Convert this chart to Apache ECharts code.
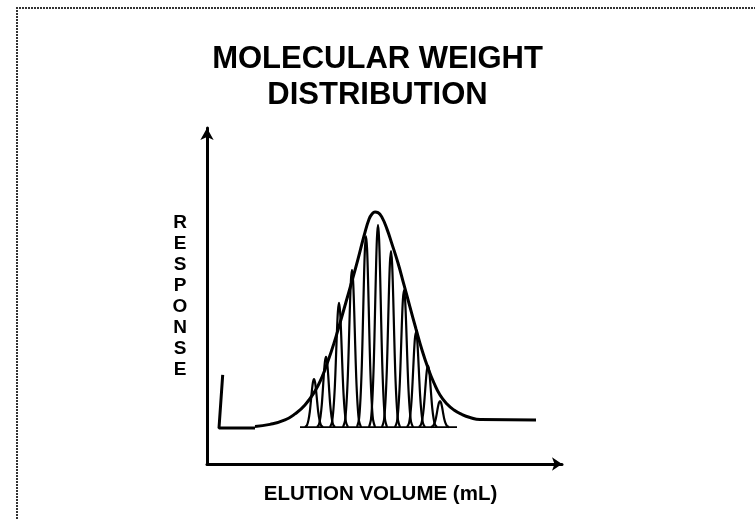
<!DOCTYPE html>
<html>
<head>
<meta charset="utf-8">
<script src="https://cdn.jsdelivr.net/npm/echarts@6/dist/echarts.min.js"></script>
<style>
  html, body { margin: 0; padding: 0; background: #fff; }
  #chart { width: 755px; height: 519px; }
</style>
</head>
<body>
<div id="chart"></div>
<script>
// Detector trace: injection spike and flat start of the run
const spikePoints = [[1.57, 29.7], [1.2, 12.0], [4.8, 12.0]];

// Broad envelope of the polymer distribution (elution volume, response)
const envelopePoints = [
  [4.8, 12.5], [6.3, 13.2], [7.8, 14.7], [8.8, 16.7], [9.8, 19.7],
  [10.8, 24.3], [11.5, 29.0], [12.1, 34.3], [12.7, 40.3], [13.3, 47.0],
  [13.9, 54.0], [14.5, 61.0], [15.1, 68.3], [15.7, 76.0], [16.2, 81.6],
  [16.5, 83.3], [16.8, 84.0], [17.1, 83.8], [17.5, 82.2], [18.0, 78.3],
  [18.5, 73.3], [19.1, 67.0], [19.7, 59.7], [20.3, 52.3], [20.9, 45.0],
  [21.5, 38.0], [22.1, 32.0], [22.7, 27.0], [23.3, 23.0], [24.0, 20.0],
  [24.7, 18.0], [25.5, 16.5], [26.3, 15.5], [27.3, 14.8], [32.9, 14.7]
];

// Individual oligomer peaks: retention and apex response
const peakCenters = [10.7, 11.9, 13.2, 14.5, 15.9, 17.1, 18.4, 19.7, 20.9, 22.1, 23.3];
const peakTops    = [28.3, 35.7, 53.7, 64.7, 76.0, 79.7, 71.0, 58.0, 44.0, 32.7, 21.0];
const peakBase = 12.3;
const peakBaseline = [[9.3, 12.3], [25.0, 12.3]];

// Shape of a single narrow peak: offset from apex (mL), fraction of apex height
const peakProfile = [
  [-0.9, 0], [-0.7, 0.04], [-0.55, 0.15], [-0.42, 0.32], [-0.32, 0.52],
  [-0.22, 0.74], [-0.11, 0.93], [0, 1], [0.11, 0.93], [0.22, 0.74],
  [0.32, 0.52], [0.42, 0.32], [0.55, 0.15], [0.7, 0.04], [0.9, 0]
];

const FONT = '"Liberation Sans", Arial, sans-serif';
const INK = '#000';

const peakSeries = peakCenters.map((c, i) => ({
  type: 'line',
  name: 'peak ' + (i + 1),
  data: peakProfile.map(([dx, f]) => [c + dx, peakBase + f * (peakTops[i] - peakBase)]),
  showSymbol: false,
  smooth: 0.3,
  lineStyle: { color: INK, width: 2.2 },
  z: 3,
  silent: true
}));

const chart = echarts.init(document.getElementById('chart'), null, { renderer: 'canvas' });

chart.setOption({
  animation: false,
  backgroundColor: '#fff',
  title: {
    text: 'MOLECULAR WEIGHT\nDISTRIBUTION',
    left: 'center',
    top: 36,
    textStyle: {
      fontFamily: FONT,
      fontSize: 31,
      fontWeight: 'bold',
      color: INK,
      lineHeight: 36
    }
  },
  grid: { left: 207, top: 128, width: 355, height: 336 },
  xAxis: {
    type: 'value',
    min: 0,
    max: 35.5,
    name: 'ELUTION VOLUME (mL)',
    nameLocation: 'middle',
    nameGap: 20,
    nameTextStyle: { fontFamily: FONT, fontSize: 20.5, fontWeight: 'bold', color: INK, padding: [0, 8, 0, 0] },
    axisLine: {
      show: true,
      onZero: false,
      symbol: ['none', 'arrow'],
      symbolSize: [10, 10],
      lineStyle: { color: INK, width: 3 }
    },
    axisTick: { show: false },
    axisLabel: { show: false },
    splitLine: { show: false }
  },
  yAxis: {
    type: 'value',
    min: 0,
    max: 112,
    name: 'R\nE\nS\nP\nO\nN\nS\nE',
    nameLocation: 'middle',
    nameRotate: 0,
    nameGap: 27,
    nameTextStyle: { fontFamily: FONT, fontSize: 19, fontWeight: 'bold', color: INK, lineHeight: 21, align: 'center' },
    axisLine: {
      show: true,
      onZero: false,
      symbol: ['none', 'arrow'],
      symbolSize: [10, 12],
      lineStyle: { color: INK, width: 3 }
    },
    axisTick: { show: false },
    axisLabel: { show: false },
    splitLine: { show: false }
  },
  graphic: [
    {
      type: 'polyline',
      shape: { points: [[17, 519], [17, 8], [755, 8]] },
      style: { stroke: '#333', lineWidth: 2, lineDash: [2, 1], fill: null },
      silent: true
    }
  ],
  series: [
    {
      type: 'line',
      name: 'start',
      data: spikePoints,
      showSymbol: false,
      lineStyle: { color: INK, width: 3 },
      z: 4,
      silent: true
    },
    {
      type: 'line',
      name: 'envelope',
      data: envelopePoints,
      showSymbol: false,
      smooth: 0.5,
      lineStyle: { color: INK, width: 3 },
      z: 4,
      silent: true
    },
    {
      type: 'line',
      name: 'peak baseline',
      data: peakBaseline,
      showSymbol: false,
      lineStyle: { color: INK, width: 1.6 },
      z: 3,
      silent: true
    }
  ].concat(peakSeries)
});
</script>
</body>
</html>
